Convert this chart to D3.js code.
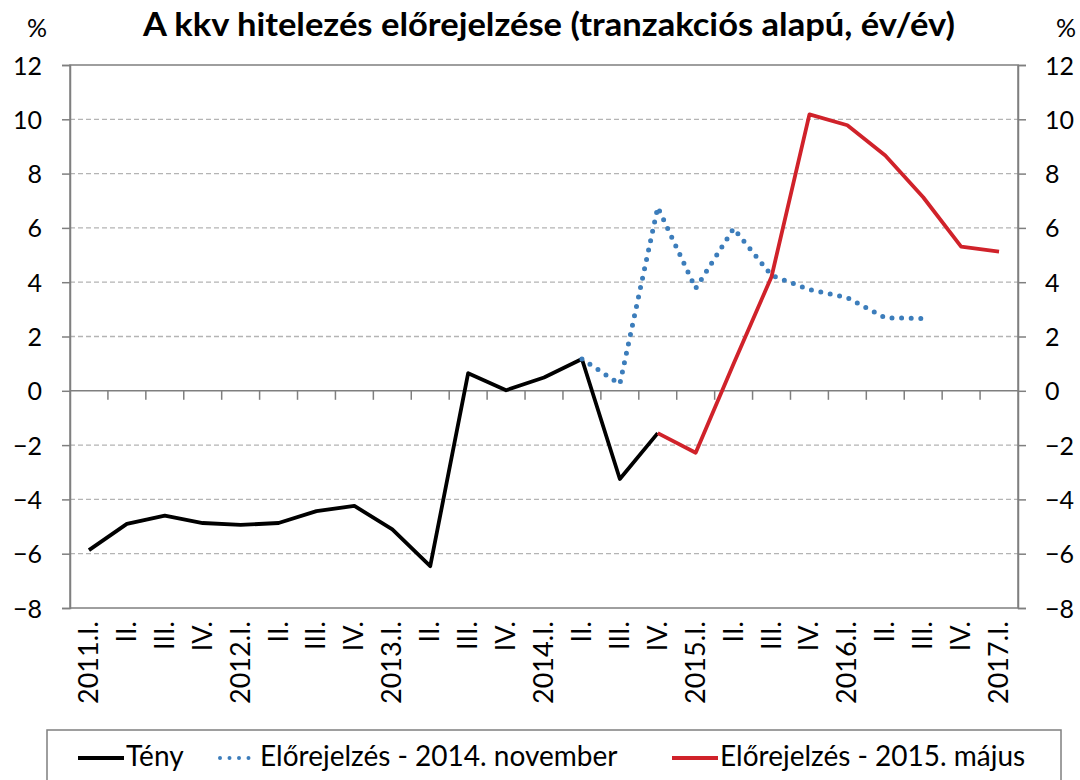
<!DOCTYPE html>
<html>
<head>
<meta charset="utf-8">
<script src="https://cdn.jsdelivr.net/npm/d3@7"></script>
<style>
  body { margin: 0; background: #fff; }
  text { font-family: Lato, "Open Sans", sans-serif; fill: #000; }
</style>
</head>
<body>
<div id="chart"></div>
<script>
// quarters, 2011.I -> 2017.I
const quarters = ["2011.I.","II.","III.","IV.","2012.I.","II.","III.","IV.","2013.I.","II.","III.","IV.",
  "2014.I.","II.","III.","IV.","2015.I.","II.","III.","IV.","2016.I.","II.","III.","IV.","2017.I."];

// actual
const teny = [-5.87,-4.9,-4.6,-4.87,-4.94,-4.87,-4.43,-4.24,-5.1,-6.46,0.65,0.02,0.49,1.17,-3.25,-1.56,
  null,null,null,null,null,null,null,null,null];
// forecast, 2014 November
const fc2014 = [null,null,null,null,null,null,null,null,null,null,null,null,null,1.17,0.25,6.76,3.77,5.98,4.25,3.73,3.43,2.69,2.66,
  null,null];
// forecast, 2015 May
const fc2015 = [null,null,null,null,null,null,null,null,null,null,null,null,null,null,null,-1.56,-2.28,1.0,4.2,10.18,9.78,8.67,7.13,5.31,5.13];

const yTicks = [-8,-6,-4,-2,0,2,4,6,8,10,12];

const series = [
  {name: "Tény", values: teny, color: "#000000", dash: null, w: 3.8},
  {name: "Előrejelzés - 2014. november", values: fc2014, color: "#3c7dbb", dash: "0,9.6", w: 5},
  {name: "Előrejelzés - 2015. május", values: fc2015, color: "#d0222a", dash: null, w: 3.8}
];

const W = 1080, H = 780;
const plot = {left: 70, right: 1018, top: 65, bottom: 608};

var svg = d3.select("#chart").append("svg")
    .attr("width", W)
    .attr("height", H)
    .style("background", "#fff");

var x = d3.scaleBand()
    .domain(d3.range(quarters.length))
    .range([plot.left, plot.right]);

var y = d3.scaleLinear()
    .domain([-8, 12])
    .range([plot.bottom, plot.top]);

var cx = function(i) { return x(i) + x.bandwidth() / 2; };

// title + unit labels
svg.append("text")
    .attr("x", 549).attr("y", 36)
    .attr("text-anchor", "middle")
    .style("font-size", "32px").style("font-weight", "bold")
    .attr("textLength", 812).attr("lengthAdjust", "spacingAndGlyphs")
    .text("A kkv hitelezés előrejelzése (tranzakciós alapú, év/év)");
svg.append("text").attr("x", 37).attr("y", 37).attr("text-anchor", "middle")
    .style("font-size", "25px").text("%");
svg.append("text").attr("x", 1066).attr("y", 37).attr("text-anchor", "middle")
    .style("font-size", "25px").text("%");

// dashed gridlines
svg.append("g").selectAll("line")
    .data(yTicks.filter(function(d) { return d != 0 && d != 12 && d != -8; }))
    .enter().append("line")
    .attr("x1", plot.left).attr("x2", plot.right)
    .attr("y1", function(d) { return y(d); })
    .attr("y2", function(d) { return y(d); })
    .attr("stroke", "#b4b4b4")
    .attr("stroke-width", 1.3)
    .attr("stroke-dasharray", "5,3");

// plot frame
svg.append("rect")
    .attr("x", plot.left).attr("y", plot.top)
    .attr("width", plot.right - plot.left).attr("height", plot.bottom - plot.top)
    .attr("fill", "none").attr("stroke", "#7f7f7f").attr("stroke-width", 1.5);

// axes
var yl = svg.append("g")
    .attr("transform", "translate(" + plot.left + ",0)")
    .call(d3.axisLeft(y).tickValues(yTicks).tickSize(8).tickPadding(20).tickFormat(d3.format("d")));
var yr = svg.append("g")
    .attr("transform", "translate(" + plot.right + ",0)")
    .call(d3.axisRight(y).tickValues(yTicks).tickSize(8).tickPadding(19).tickFormat(d3.format("d")));
[yl, yr].forEach(function(a) {
  a.select(".domain").attr("stroke", "#7f7f7f").attr("stroke-width", 1.5);
  a.selectAll(".tick line").attr("stroke", "#7f7f7f").attr("stroke-width", 1.5);
  a.selectAll(".tick text").style("font-size", "25px").style("font-family", "Lato, sans-serif").attr("dy", "0.36em");
});

// zero line with category ticks
svg.append("line")
    .attr("x1", plot.left).attr("x2", plot.right)
    .attr("y1", y(0)).attr("y2", y(0))
    .attr("stroke", "#7f7f7f").attr("stroke-width", 1.5);
svg.append("g").selectAll("line")
    .data(d3.range(1, quarters.length))
    .enter().append("line")
    .attr("x1", function(i) { return x(i); })
    .attr("x2", function(i) { return x(i); })
    .attr("y1", y(0)).attr("y2", y(0) + 9)
    .attr("stroke", "#7f7f7f").attr("stroke-width", 1.5);

// category labels, rotated
svg.append("g").selectAll("text")
    .data(quarters)
    .enter().append("text")
    .attr("transform", function(d, i) { return "translate(" + (cx(i) + 9) + ",621) rotate(-90)"; })
    .attr("text-anchor", "end")
    .style("font-size", "27px")
    .text(function(d) { return d; });

// lines
var line = d3.line()
    .defined(function(d) { return d != null; })
    .x(function(d, i) { return cx(i); })
    .y(function(d) { return y(d); });

series.forEach(function(s) {
  svg.append("path")
      .datum(s.values)
      .attr("d", line)
      .attr("fill", "none")
      .attr("stroke", s.color)
      .attr("stroke-width", s.w)
      .attr("stroke-linecap", s.dash ? "round" : "butt")
      .attr("stroke-linejoin", "round")
      .attr("stroke-dasharray", s.dash);
});

// legend
svg.append("rect")
    .attr("x", 47).attr("y", 730)
    .attr("width", 1014).attr("height", 70)
    .attr("fill", "#fff").attr("stroke", "#7f7f7f").attr("stroke-width", 1.5);

var legendX = [78, 220, 672];
var legendItem = svg.append("g").selectAll("g")
    .data(series)
    .enter().append("g")
    .attr("transform", function(d, i) { return "translate(" + legendX[i] + ",758)"; });
legendItem.append("line")
    .attr("x1", 0).attr("x2", function(d) { return d.dash ? 38 : 46; })
    .attr("stroke", function(d) { return d.color; })
    .attr("stroke-width", function(d) { return d.dash ? 4 : 3.8; })
    .attr("stroke-linecap", function(d) { return d.dash ? "round" : "butt"; })
    .attr("stroke-dasharray", function(d) { return d.dash ? "0,9.5" : null; });
legendItem.append("text")
    .attr("x", function(d) { return d.dash ? 40 : 48; })
    .attr("y", 8)
    .style("font-size", "28px")
    .text(function(d) { return d.name; });
</script>
</body>
</html>
